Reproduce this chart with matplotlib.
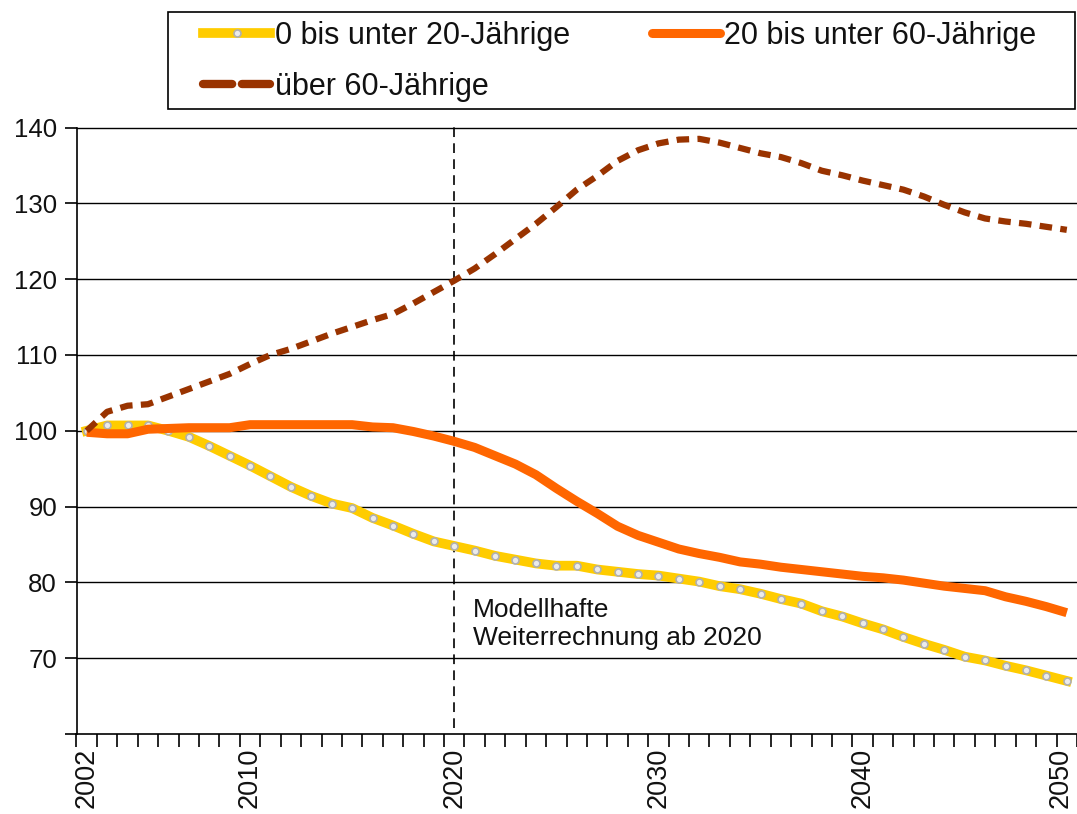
import matplotlib
matplotlib.use('Agg')
import matplotlib.pyplot as plt
import matplotlib.transforms as mtransforms
from matplotlib.lines import Line2D
from matplotlib.patches import Rectangle

plt.rcParams['font.family'] = ['Liberation Sans', 'DejaVu Sans']
plt.rcParams['lines.scale_dashes'] = False

# data (index, 2002 = 100)
years = list(range(2002, 2051))

young = [100.0, 100.7, 100.7, 100.7, 100.0, 99.2, 98.0, 96.7, 95.4, 94.0,
         92.6, 91.4, 90.4, 89.8, 88.5, 87.5, 86.4, 85.4, 84.8, 84.2,
         83.5, 83.0, 82.5, 82.2, 82.2, 81.7, 81.4, 81.1, 80.9, 80.5,
         80.1, 79.5, 79.1, 78.5, 77.8, 77.2, 76.2, 75.5, 74.6, 73.8,
         72.8, 71.9, 71.1, 70.2, 69.7, 69.0, 68.4, 67.7, 67.0]

middle = [99.8, 99.6, 99.6, 100.2, 100.3, 100.4, 100.4, 100.4, 100.8, 100.8,
          100.8, 100.8, 100.8, 100.8, 100.5, 100.4, 99.9, 99.3, 98.6, 97.8,
          96.7, 95.6, 94.2, 92.4, 90.7, 89.1, 87.4, 86.2, 85.3, 84.4,
          83.8, 83.3, 82.7, 82.4, 82.0, 81.7, 81.4, 81.1, 80.8, 80.6,
          80.3, 79.9, 79.5, 79.2, 78.9, 78.1, 77.5, 76.8, 76.0]

old = [100.0, 102.5, 103.3, 103.5, 104.5, 105.5, 106.5, 107.5, 108.8, 110.0,
       110.8, 111.8, 112.8, 113.7, 114.6, 115.4, 116.8, 118.3, 119.8, 121.4,
       123.3, 125.3, 127.3, 129.5, 131.8, 133.6, 135.6, 137.0, 137.9, 138.4,
       138.5, 138.0, 137.3, 136.6, 136.1, 135.3, 134.3, 133.7, 133.0, 132.4,
       131.8, 130.9, 129.8, 128.8, 128.0, 127.6, 127.3, 126.9, 126.5]

labels = ['0 bis unter 20-Jährige', '20 bis unter 60-Jährige', 'über 60-Jährige']
year_labels = [2002, 2010, 2020, 2030, 2040, 2050]
y_ticks = [60, 70, 80, 90, 100, 110, 120, 130, 140]

W, H = 1077, 814
fig = plt.figure(figsize=(W / 100, H / 100), dpi=100)
ax = fig.add_axes([76.5 / W, (H - 734) / H, 1 - 76.5 / W, (734 - 127.5) / H])

YELLOW = '#FFCC00'
ORANGE = '#FF6600'
BROWN = '#993300'

# grid lines
for v in y_ticks[1:]:
    ax.axhline(v, color='black', lw=1.0, zorder=1, clip_on=False)

ax.plot(years, young, color=YELLOW, lw=7, zorder=3,
        marker='o', ms=5, mfc='#EBEBEB', mec='#B0B0B0', mew=1.2)
ax.plot(years, middle, color=ORANGE, lw=6.5, zorder=4, solid_capstyle='butt')
ax.plot(years, old, color=BROWN, lw=4.5, zorder=5, dashes=(9, 6), dash_capstyle='butt')

# start of model calculation
ax.plot([2020, 2020], [60.8, 140.5], color='black', lw=1.2, dashes=(7, 4.5),
        zorder=2, clip_on=False)
ax.text(2020.9, 78.0, 'Modellhafte\nWeiterrechnung ab 2020', fontsize=19,
        ha='left', va='top', linespacing=1.25, color='#111111')

ax.set_xlim(2001.5, 2050.5)
ax.set_ylim(60, 140)

ax.set_xticks([y + 0.5 for y in range(2001, 2051)], minor=True)
ax.set_xticks(year_labels)
ax.set_xticklabels([str(y) for y in year_labels], rotation=90)
ax.tick_params(axis='x', which='major', length=0, pad=10, labelsize=19.5,
               labelcolor='#111111')
ax.tick_params(axis='x', which='minor', length=9, width=1.2, direction='out')
# last label sits at the right edge, nudge it in a little
last = ax.get_xticklabels()[-1]
last.set_transform(last.get_transform() +
                   mtransforms.ScaledTranslation(-6 / 100, 0, fig.dpi_scale_trans))

ax.set_yticks(y_ticks)
ax.set_yticklabels([''] + [str(v) for v in y_ticks[1:]])
ax.tick_params(axis='y', length=9, width=1.2, direction='out', pad=5,
               labelsize=18.5, labelcolor='#111111')

for side in ['top', 'right']:
    ax.spines[side].set_visible(False)
for side in ['left', 'bottom']:
    ax.spines[side].set_linewidth(1.2)

# legend
h_young = Line2D([], [], color=YELLOW, lw=7, marker='o', ms=5, mfc='#EBEBEB',
                 mec='#B0B0B0', mew=1.2)
h_middle = Line2D([], [], color=ORANGE, lw=6.5, solid_capstyle='round')
h_old = Line2D([], [], color=BROWN, lw=6, dashes=(21, 7), dash_capstyle='round')
fig.legend([h_young, h_old, h_middle], [labels[0], labels[2], labels[1]],
           ncol=2, loc='upper left', bbox_to_anchor=(203 / W, 1 - 21 / H),
           frameon=False, borderaxespad=0, borderpad=0, fontsize=22,
           handlelength=2.2, handletextpad=0.15, columnspacing=2.7,
           labelspacing=0.68, numpoints=1, labelcolor='#111111')
fig.patches.append(Rectangle((168 / W, 1 - 109 / H), (1075 - 168) / W, 97 / H,
                             transform=fig.transFigure, fill=False,
                             edgecolor='black', lw=1.2))

fig.savefig('out.png', dpi=100)
